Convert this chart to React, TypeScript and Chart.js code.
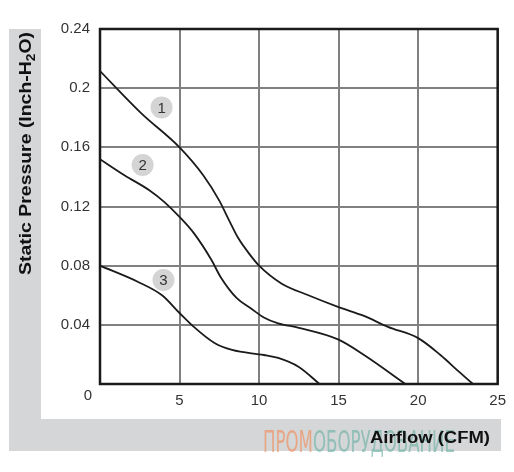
import React, { useEffect, useRef } from 'react';
import { Chart, registerables } from 'chart.js';

Chart.register(...registerables);

// Curve 1
const airflow1 = [0, 2.6, 5, 6.5, 7.5, 8.1, 8.7, 9.35, 10, 11.4, 13.1, 15, 16.6, 18.1, 20, 21.4, 22.6, 23.45];
const pressure1 = [0.2116, 0.183, 0.16, 0.141, 0.124, 0.111, 0.0985, 0.0885, 0.08, 0.068, 0.06, 0.052, 0.046, 0.0386, 0.031, 0.0196, 0.008, 0];
// Curve 2
const airflow2 = [0, 1.56, 3.1, 4.05, 5, 5.9, 7, 7.6, 8.6, 9.5, 10.3, 11.2, 12.5, 15, 16.6, 19.2];
const pressure2 = [0.152, 0.141, 0.131, 0.123, 0.113, 0.102, 0.084, 0.072, 0.058, 0.051, 0.045, 0.041, 0.038, 0.03, 0.0196, 0];
// Curve 3
const airflow3 = [0, 2.4, 3.9, 5, 5.9, 7.2, 8.3, 10.3, 11.2, 12.5, 13.8];
const pressure3 = [0.08, 0.069, 0.06, 0.048, 0.0386, 0.0277, 0.023, 0.0196, 0.0176, 0.0115, 0];

// Curve markers
const markerLabels = ['1', '2', '3'];
const markerX = [3.87, 2.68, 3.99];
const markerY = [0.187, 0.148, 0.0703];

// Axes
const xMin = 0;
const xMax = 25;
const xStep = 5;
const yMin = 0;
const yMax = 0.24;
const yStep = 0.04;
const originLabel = '0';

const xTitle = 'Airflow (CFM)';
const yTitleMain = 'Static Pressure (Inch-H';
const yTitleSub = '2';
const yTitleTail = 'O)';
const watermarkA = 'ПРОМ';
const watermarkB = 'ОБОРУДОВАНИЕ';

const FONT = '"Liberation Sans", Arial, sans-serif';

export default function App() {
  const ref = useRef<HTMLCanvasElement>(null);

  useEffect(() => {
    const canvas = ref.current;
    if (!canvas) return;

    const toPts = (xs: number[], ys: number[]) => xs.map((x, i) => ({ x, y: ys[i] }));
    const ds = (xs: number[], ys: number[]) => ({
      data: toPts(xs, ys),
      borderColor: '#1b1b1b',
      borderWidth: 1.8,
      pointRadius: 0,
      fill: false,
      cubicInterpolationMode: 'monotone' as const,
    });

    const bgPlugin = {
      id: 'bgPlugin',
      beforeDraw(chart: any) {
        const c = chart.ctx as CanvasRenderingContext2D;
        c.save();
        c.fillStyle = '#ffffff';
        c.fillRect(0, 0, chart.width, chart.height);
        c.fillStyle = '#d5d6d8';
        c.fillRect(9, 29, 32, 422);
        c.fillRect(9, 419, 492, 32);
        // watermark
        c.font = '30px "DejaVu Sans Condensed", "DejaVu Sans", sans-serif';
        const wa = c.measureText(watermarkA).width;
        const wb = c.measureText(watermarkB).width;
        const target = 192;
        const sx = target / (wa + wb);
        c.translate(263, 452);
        c.scale(sx, 1);
        c.textBaseline = 'alphabetic';
        c.textAlign = 'left';
        c.fillStyle = 'rgba(236, 150, 105, 0.75)';
        c.fillText(watermarkA, 0, 0);
        c.fillStyle = 'rgba(115, 180, 170, 0.7)';
        c.fillText(watermarkB, wa, 0);
        c.restore();
      },
    };

    const fgPlugin = {
      id: 'fgPlugin',
      afterDraw(chart: any) {
        const c = chart.ctx as CanvasRenderingContext2D;
        const { left, top, right, bottom } = chart.chartArea;
        const xs = chart.scales.x;
        const ys = chart.scales.y;
        c.save();
        // frame
        c.strokeStyle = '#1a1a1a';
        c.lineWidth = 2.5;
        c.strokeRect(left, top, right - left, bottom - top);

        // markers
        for (let i = 0; i < markerLabels.length; i++) {
          const px = xs.getPixelForValue(markerX[i]);
          const py = ys.getPixelForValue(markerY[i]);
          c.beginPath();
          c.arc(px, py, 11, 0, Math.PI * 2);
          c.fillStyle = '#d4d4d4';
          c.fill();
          c.fillStyle = '#333333';
          c.font = `15px ${FONT}`;
          c.textAlign = 'center';
          c.textBaseline = 'middle';
          c.fillText(markerLabels[i], px, py + 1);
        }

        // origin label
        c.fillStyle = '#333333';
        c.font = `15px ${FONT}`;
        c.textAlign = 'center';
        c.textBaseline = 'middle';
        c.fillText(originLabel, xs.getPixelForValue(0) - 12, ys.getPixelForValue(0) + 12);

        // x title
        c.font = `bold 16px ${FONT}`;
        c.fillStyle = '#111111';
        c.textAlign = 'left';
        c.textBaseline = 'alphabetic';
        const xw = c.measureText(xTitle).width;
        c.save();
        c.translate(370, 443);
        c.scale(120 / xw, 1);
        c.fillText(xTitle, 0, 0);
        c.restore();

        // y title
        const mainFont = `bold 17px ${FONT}`;
        const subFont = `bold 12px ${FONT}`;
        c.font = mainFont;
        const w1 = c.measureText(yTitleMain).width;
        const w3 = c.measureText(yTitleTail).width;
        c.font = subFont;
        const w2 = c.measureText(yTitleSub).width;
        const total = w1 + w2 + w3;
        const targetLen = 243;
        c.save();
        c.translate(31, 275);
        c.rotate(-Math.PI / 2);
        c.scale(targetLen / total, 1);
        c.textAlign = 'left';
        c.textBaseline = 'alphabetic';
        c.fillStyle = '#111111';
        c.font = mainFont;
        c.fillText(yTitleMain, 0, 0);
        c.font = subFont;
        c.fillText(yTitleSub, w1, 4);
        c.font = mainFont;
        c.fillText(yTitleTail, w1 + w2, 0);
        c.restore();

        c.restore();
      },
    };

    const chart = new Chart(canvas, {
      type: 'line',
      data: {
        datasets: [ds(airflow1, pressure1), ds(airflow2, pressure2), ds(airflow3, pressure3)],
      },
      options: {
        animation: false,
        responsive: false,
        maintainAspectRatio: false,
        layout: { padding: { left: 0, top: 29, right: 13, bottom: 0 } },
        plugins: {
          legend: { display: false },
          tooltip: { enabled: false },
        },
        scales: {
          x: {
            type: 'linear',
            min: xMin,
            max: xMax,
            afterFit(scale: any) {
              scale.height = 88;
            },
            ticks: {
              stepSize: xStep,
              padding: 8,
              color: '#333333',
              font: { family: FONT, size: 15 },
              maxRotation: 0,
              callback: (v: any) => (Number(v) === 0 ? '' : String(v)),
            },
            grid: { color: '#808080', lineWidth: 2, drawTicks: false },
            border: { display: false },
          },
          y: {
            type: 'linear',
            min: yMin,
            max: yMax,
            afterFit(scale: any) {
              scale.width = 100;
            },
            ticks: {
              stepSize: yStep,
              padding: 10,
              color: '#333333',
              font: { family: FONT, size: 15 },
              callback: (v: any) => (Number(v) === 0 ? '' : String(Number(Number(v).toFixed(2)))),
            },
            grid: { color: '#808080', lineWidth: 2, drawTicks: false },
            border: { display: false },
          },
        },
      },
      plugins: [bgPlugin, fgPlugin],
    });

    return () => chart.destroy();
  }, []);

  return (
    <div style={{ position: 'absolute', left: 0, top: 0, width: 514, height: 472 }}>
      <canvas ref={ref} width={514} height={472} style={{ display: 'block', width: 514, height: 472 }} />
    </div>
  );
}
